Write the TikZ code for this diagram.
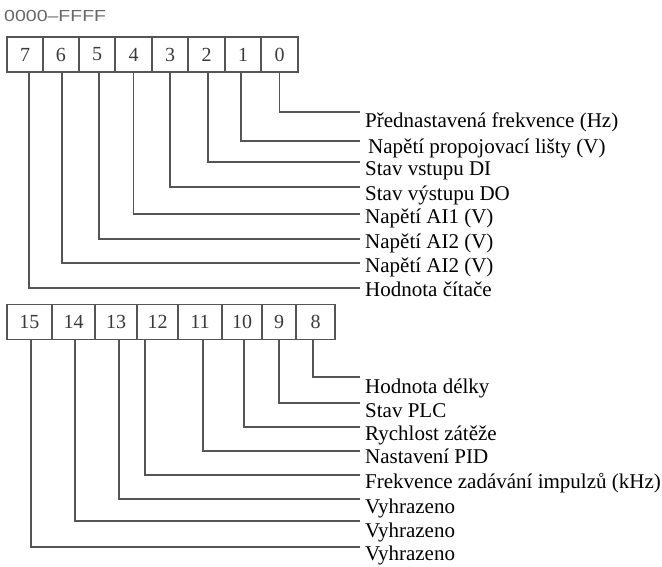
\documentclass[tikz,border=0pt]{standalone}
\usepackage{graphicx}
\usepackage{fontspec}
\setmainfont{Liberation Serif}
\newfontfamily\hdrfont{Liberation Sans}
\definecolor{lnc}{HTML}{555555}
\definecolor{dig}{HTML}{3A3A3A}
\definecolor{hdrc}{HTML}{686868}
\begin{document}
\begin{tikzpicture}[x=1pt,y=-1pt,
  cell/.style={draw=lnc, line width=1.3pt, minimum height=35pt, inner sep=0pt,
    font=\fontsize{20}{20}\selectfont, text=dig},
  lbl/.style={anchor=base west, inner sep=0pt, font=\fontsize{21}{21}\selectfont, text=black},
  conn/.style={draw=lnc, line width=1.4pt}]
\useasboundingbox (0,0) rectangle (662,566);
\node[anchor=base west, inner sep=0pt, text=hdrc] (hdr) at (4,21)
  {\hdrfont\fontsize{16}{16}\selectfont\scalebox{1.22}[1]{0000–FFFF}};
% top register, bits 7..0
\foreach \b/\l/\r in {7/7/43, 6/43/79, 5/79/115, 4/115/152, 3/152/188, 2/188/225, 1/225/261, 0/261/298}
  \node[cell, minimum width={(\r-\l)*1pt}] (t\b) at ({(\l+\r)/2},54.5) {\b};
% bottom register, bits 15..8
\foreach \b/\l/\r in {15/7/52, 14/52/95, 13/95/137, 12/137/178, 11/178/222, 10/222/262, 9/262/296, 8/296/335}
  \node[cell, minimum width={(\r-\l)*1pt}] (t\b) at ({(\l+\r)/2},322) {\b};
% labels
\node[lbl] (l0) at (365,127) {Přednastavená frekvence (Hz)};
\node[lbl] (l1) at (368,153) {Napětí propojovací lišty (V)};
\node[lbl] (l2) at (365,175) {Stav vstupu DI};
\node[lbl] (l3) at (365,200) {Stav výstupu DO};
\node[lbl] (l4) at (365,223) {Napětí AI1 (V)};
\node[lbl] (l5) at (365,248) {Napětí AI2 (V)};
\node[lbl] (l6) at (365,272) {Napětí AI2 (V)};
\node[lbl] (l7) at (365,296) {Hodnota čítače};
\node[lbl] (l8) at (365,393) {Hodnota délky};
\node[lbl] (l9) at (365,417) {Stav PLC};
\node[lbl] (l10) at (365,440) {Rychlost zátěže};
\node[lbl] (l11) at (365,463) {Nastavení PID};
\node[lbl] (l12) at (365,488) {Frekvence zadávání impulzů (kHz)};
\node[lbl] (l13) at (365,513) {Vyhrazeno};
\node[lbl] (l14) at (365,537) {Vyhrazeno};
\node[lbl] (l15) at (365,560) {Vyhrazeno};
% connectors
\foreach \b/\d/\y in {0/0/112, 1/-2/141, 2/1.5/162, 3/0/187, 4/0/214, 5/2/239, 6/1/263, 7/4/288,
                      8/-2.5/377, 9/0/403, 10/2/427, 11/3/451, 12/-12.5/475, 13/3/499, 14/1.5/521, 15/1.5/547}
{
  \coordinate (e\b) at (360,\y);
  \draw[conn] ([xshift=\d pt]t\b.south) |- (e\b);
}
\end{tikzpicture}
\end{document}
